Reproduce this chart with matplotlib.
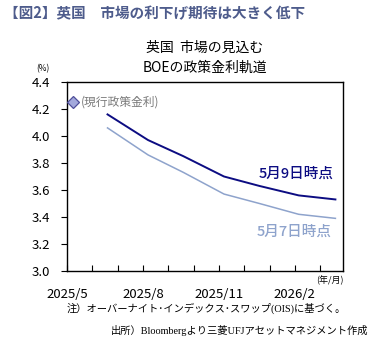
import matplotlib.pyplot as plt

plt.rcParams['font.family'] = ['Noto Sans CJK JP', 'DejaVu Sans']

# months since 2025/5 (MPC meeting dates)
meet_x = [1.6, 3.2, 4.6, 6.2, 7.6, 9.15, 10.6]
may9 = [4.16, 3.97, 3.85, 3.70, 3.63, 3.56, 3.53]
may7 = [4.06, 3.86, 3.73, 3.57, 3.50, 3.42, 3.39]
current_x = 0.23
current_rate = 4.25

tick_pos = [0, 3, 6, 9]
tick_labels = ['2025/5', '2025/8', '2025/11', '2026/2']
yticks = [3.0, 3.2, 3.4, 3.6, 3.8, 4.0, 4.2, 4.4]

fig = plt.figure(figsize=(3.76, 3.43), dpi=100)
ax = fig.add_axes([67/376, 1 - 271/343, 276/376, 189/343])

ax.plot(meet_x, may7, color='#8ea3cc', lw=1.1)
ax.plot(meet_x, may9, color='#0c0c82', lw=1.4)
ax.plot([current_x], [current_rate], marker='D', ms=6.5, mfc='#a3a9dc',
        mec='#4f4f9a', mew=0.9, clip_on=False, zorder=5)
ax.text(0.55, current_rate, '(現行政策金利)', color='#7a7a7a', fontsize=8.5,
        va='center', ha='left')

ax.text(10.55, 3.72, '5月9日時点', color='#0c0c82', fontsize=10.5,
        fontweight='medium', ha='right', va='center')
ax.text(10.45, 3.29, '5月7日時点', color='#8ea3cc', fontsize=10.5,
        fontweight='medium', ha='right', va='center')

ax.set_xlim(0, 10.9)
ax.set_ylim(3.0, 4.4)
ax.set_yticks(yticks)
ax.set_yticklabels([f'{v:.1f}' for v in yticks], fontsize=9.5)
ax.set_xticks(tick_pos)
ax.set_xticklabels(tick_labels, fontsize=9.5)
ax.set_xticks(range(1, 11), minor=True)
ax.tick_params(axis='x', which='both', direction='in', length=4, pad=12,
               width=0.8)
ax.tick_params(axis='y', direction='out', length=4, width=0.8, pad=8)
for s in ax.spines.values():
    s.set_linewidth(1.0)

fig.text(4/376, 1 - 13/343, '【図2】英国　市場の利下げ期待は大きく低下',
         color='#4e5c8c', fontsize=10.5, fontweight='bold', va='center')
fig.text(205/376, 1 - 48/343, '英国  市場の見込む', fontsize=10,
         ha='center', va='center')
fig.text(205/376, 1 - 68/343, 'BOEの政策金利軌道', fontsize=10,
         ha='center', va='center')
fig.text(43/376, 1 - 69/343, '(%)', fontsize=6, ha='center', va='center')
fig.text(344/376, 1 - 280/343, '(年/月)', fontsize=6.5, ha='right',
         va='center')
fig.text(67/376, 1 - 308/343,
         '注）オーバーナイト･インデックス･スワップ(OIS)に基づく。',
         fontsize=7.4, va='center', family=['Liberation Serif', 'Noto Sans CJK JP'])
fig.text(368/376, 1 - 331/343,
         '出所）Bloombergより三菱UFJアセットマネジメント作成',
         fontsize=7.4, va='center', ha='right',
         family=['Liberation Serif', 'Noto Sans CJK JP'])

fig.savefig('out.png', dpi=100)
